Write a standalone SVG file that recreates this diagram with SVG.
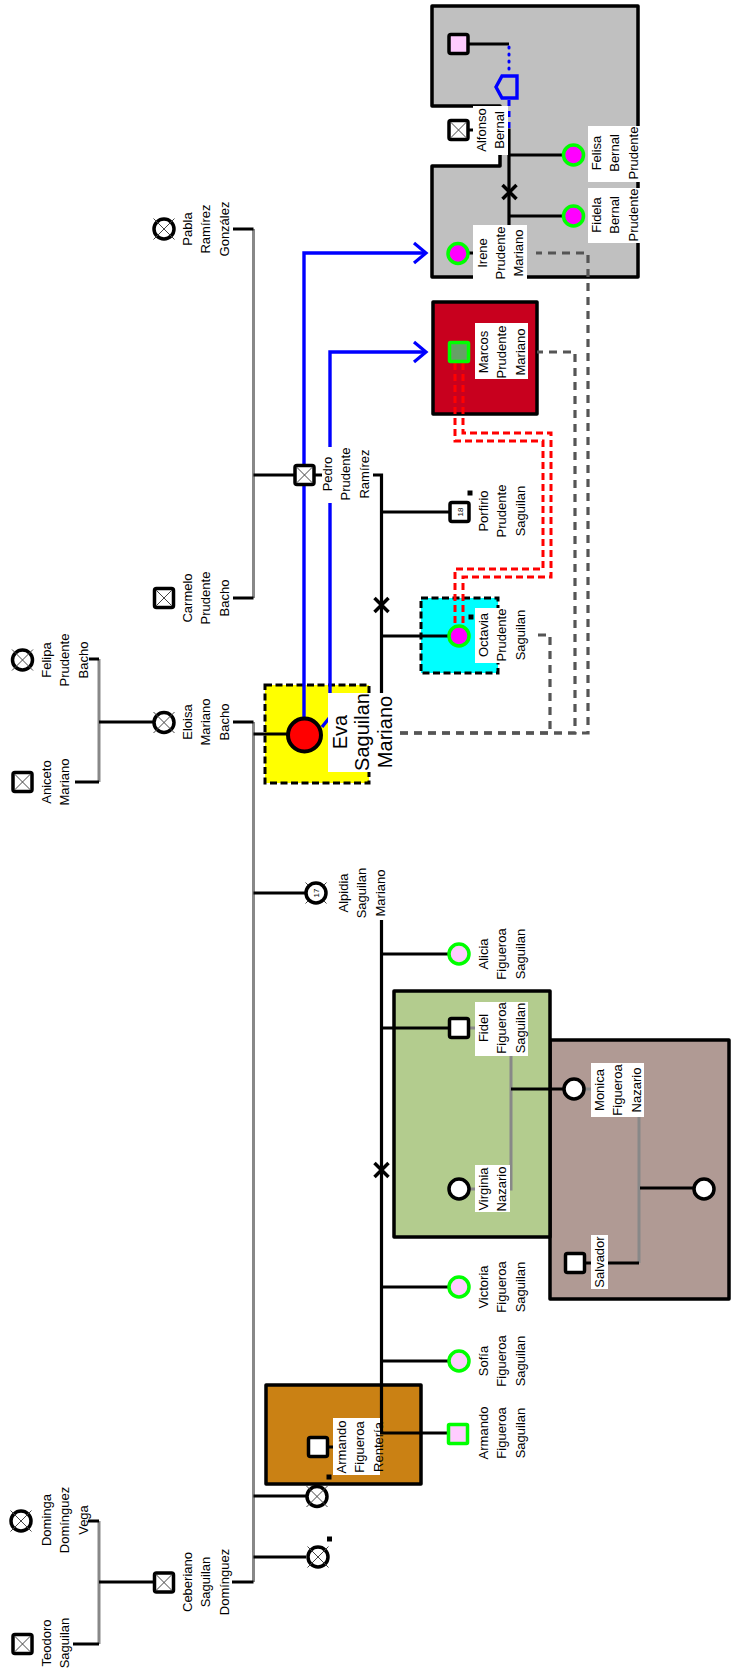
<svg xmlns="http://www.w3.org/2000/svg" width="736" height="1680" viewBox="0 0 736 1680">
<style>
.ln{fill:none;stroke:#000;stroke-width:3.2}
.gl{fill:none;stroke:#888;stroke-width:3}
.bl{fill:none;stroke:#0000ff;stroke-width:3.4}
.bd{fill:none;stroke:#0000ff;stroke-width:3;stroke-dasharray:1 6;stroke-linecap:round}
.bdd{fill:none;stroke:#0000ff;stroke-width:3;stroke-dasharray:6 5}
.dl{fill:none;stroke:#555;stroke-width:3.2;stroke-dasharray:8 6}
.rd{fill:none;stroke:#ff0000;stroke-width:3;stroke-dasharray:7 4}
.bx{stroke:#000;stroke-width:3.5;stroke-linejoin:round}
.db{stroke:#000;stroke-width:3;stroke-dasharray:7 3.5}
.nd{stroke:#000;stroke-width:3.5}
.gn{stroke:#00ff00;stroke-width:3.5}
.xx{stroke:#444;stroke-width:1;fill:none}
.xm{stroke:#000;stroke-width:3.5;fill:none}
.lbg{fill:#fff}
.mk{fill:#000}
.t{font-family:"Liberation Sans",Arial,sans-serif;font-size:13px;fill:#000;text-anchor:middle}
.big{font-size:20px}
.sm{font-size:8px}
</style>
<defs>
<g id="sqx"><rect x="-9.5" y="-9.5" width="19" height="19" rx="2" fill="#fff" class="nd"/><path class="xx" d="M-8,-8L8,8M-8,8L8,-8"/></g>
<g id="cx"><circle r="10" fill="#fff" class="nd"/><path class="xx" d="M-10.5,-10.5L10.5,10.5M-10.5,10.5L10.5,-10.5"/></g>
<path id="xmark" class="xm" d="M-7,-7L7,7M-7,7L7,-7"/>
<marker id="arr" markerUnits="userSpaceOnUse" markerWidth="20" markerHeight="24" refX="14" refY="12" orient="auto"><path d="M2,2L14,12L2,22" fill="none" stroke="#0000ff" stroke-width="3.2"/></marker>
</defs>
<rect width="736" height="1680" fill="#fff"/>

<g id="boxes">
<path class="bx" fill="#c0c0c0" d="M432,6H638V277H432V166H500V106H432Z"/>
<rect class="bx" fill="#c8001e" x="433" y="302" width="104" height="112"/>
<rect class="db" fill="#ffff00" x="265" y="685" width="104" height="98"/>
<rect class="db" fill="#00ffff" x="421" y="598" width="77" height="75"/>
<rect class="bx" fill="#b09a94" x="550" y="1040" width="179" height="259"/>
<rect class="bx" fill="#b3cc8e" x="394" y="991" width="156" height="246"/>
<rect class="bx" fill="#ca8114" x="266" y="1385" width="155" height="99"/>
</g>

<g id="connectors">
<path class="gl" d="M99,1521V1644M99,659V782M253.5,229V598M253.5,722V1582"/>
<path class="ln" d="M88,1521H99M73,1644H99M99,1582H153"/>
<path class="ln" d="M89,659H99M75,782H99M99,722H153"/>
<path class="ln" d="M233,229H253.5M233,598H253.5M253.5,475H294"/>
<path class="ln" d="M233,722H253.5M232,1582H253.5M253.5,734H288M253.5,893H305M253.5,1496H306M253.5,1557H306"/>
<path class="ln" d="M304,475H381.5V693M381.5,512H449M381.5,636H448"/>
<use href="#xmark" x="381.5" y="605"/>
<path class="ln" d="M381.5,920V1433H448M381.5,954H448M381.5,1028H449M381.5,1287H448M381.5,1361H448M318,1447H334"/>
<use href="#xmark" x="381.5" y="1170"/>
<path class="gl" d="M459,1028H511V1189H459"/>
<path class="ln" d="M511,1089H563"/>
<path class="gl" d="M574,1089H639V1263"/>
<path class="ln" d="M575,1263H639M640,1188H693"/>
<path class="ln" d="M458,44H509M458,130H509V253H458M509,155H563M509,216H563"/>
<use href="#xmark" x="509.5" y="192"/>
<path class="bd" d="M509,47V74"/>
<path class="bl" stroke-width="3.5" d="M502,76H517V98H502L496,87Z"/>
<path class="bdd" d="M509,100V129"/>
<path class="bl" d="M304,717V253H426" marker-end="url(#arr)"/>
<path class="bl" d="M322,727L330,717V352H426" marker-end="url(#arr)"/>
<path class="dl" d="M400,733H588V253H536"/>
<path class="dl" d="M400,733H575V352H537"/>
<path class="dl" d="M400,733H550V635H536"/>
<path class="rd" d="M455,363V441H543V569H455V624"/>
<path class="rd" d="M463,363V433H551V577H463V624"/>
</g>

<g id="n-teodoro"><use href="#sqx" x="22.5" y="1644"/><text class="t" transform="translate(51,1643) rotate(-90)"><tspan x="0">Teodoro</tspan><tspan x="0" dy="18.3">Saguilan</tspan></text></g>
<g id="n-dominga"><use href="#cx" x="21" y="1521"/><text class="t" transform="translate(51,1520) rotate(-90)"><tspan x="0">Dominga</tspan><tspan x="0" dy="18.3">Domínguez</tspan><tspan x="0" dy="18.3">Vega</tspan></text></g>
<g id="n-aniceto"><use href="#sqx" x="22.5" y="782"/><text class="t" transform="translate(51,782) rotate(-90)"><tspan x="0">Aniceto</tspan><tspan x="0" dy="18.3">Mariano</tspan></text></g>
<g id="n-felipa"><use href="#cx" x="22.5" y="660"/><text class="t" transform="translate(51,660) rotate(-90)"><tspan x="0">Felipa</tspan><tspan x="0" dy="18.3">Prudente</tspan><tspan x="0" dy="18.3">Bacho</tspan></text></g>

<g id="n-pabla"><use href="#cx" x="164" y="229"/><text class="t" transform="translate(192,229) rotate(-90)"><tspan x="0">Pabla</tspan><tspan x="0" dy="18.3">Ramírez</tspan><tspan x="0" dy="18.3">González</tspan></text></g>
<g id="n-carmelo"><use href="#sqx" x="164" y="598"/><text class="t" transform="translate(192,598) rotate(-90)"><tspan x="0">Carmelo</tspan><tspan x="0" dy="18.3">Prudente</tspan><tspan x="0" dy="18.3">Bacho</tspan></text></g>
<g id="n-eloisa"><use href="#cx" x="164" y="722.5"/><text class="t" transform="translate(192,722) rotate(-90)"><tspan x="0">Eloisa</tspan><tspan x="0" dy="18.3">Mariano</tspan><tspan x="0" dy="18.3">Bacho</tspan></text></g>
<g id="n-ceberiano"><use href="#sqx" x="164" y="1582.5"/><text class="t" transform="translate(192,1582) rotate(-90)"><tspan x="0">Ceberiano</tspan><tspan x="0" dy="18.3">Saguilan</tspan><tspan x="0" dy="18.3">Domínguez</tspan></text></g>

<g id="n-pedro"><rect class="lbg" x="322" y="447" width="51" height="56"/><use href="#sqx" x="304.5" y="475"/><text class="t" transform="translate(332,474) rotate(-90)"><tspan x="0">Pedro</tspan><tspan x="0" dy="18.3">Prudente</tspan><tspan x="0" dy="18.3">Ramírez</tspan></text></g>
<g id="n-eva"><rect class="lbg" x="328" y="693" width="44" height="79"/><circle cx="304.5" cy="735" r="16.5" fill="#ff0000" stroke="#000" stroke-width="4"/><text class="t big" transform="translate(346.5,732) rotate(-90)"><tspan x="0">Eva</tspan><tspan x="0" dy="22.6">Saguilan</tspan><tspan x="0" dy="22.6">Mariano</tspan></text></g>
<g id="n-alpidia"><rect class="lbg" x="337" y="866" width="51" height="54"/><path class="xx" d="M305.5,882.5L326.5,903.5M305.5,903.5L326.5,882.5"/><circle cx="316" cy="893" r="10" fill="#fff" class="nd"/><text class="t sm" transform="translate(319,893) rotate(-90)">17</text><text class="t" transform="translate(348,893) rotate(-90)"><tspan x="0">Alpidia</tspan><tspan x="0" dy="18.3">Saguilan</tspan><tspan x="0" dy="18.3">Mariano</tspan></text></g>
<g id="n-armando-fr"><rect class="lbg" x="333" y="1418" width="47" height="57"/><rect x="308.5" y="1437.5" width="19" height="19" rx="2" fill="#fff" class="nd"/><rect class="mk" x="326.5" y="1474.5" width="5" height="5"/><text class="t" transform="translate(346,1447) rotate(-90)"><tspan x="0">Armando</tspan><tspan x="0" dy="18.3">Figueroa</tspan><tspan x="0" dy="18.3">Rentería</tspan></text></g>
<g id="n-hija1"><use href="#cx" x="317" y="1496.5"/></g>
<g id="n-hija2"><use href="#cx" x="318" y="1557"/><rect class="mk" x="327" y="1536.5" width="5" height="5"/></g>

<g id="n-desconocido"><rect x="449" y="34.5" width="19" height="19" rx="2" fill="#ffccff" class="nd"/></g>
<g id="n-alfonso"><rect class="lbg" x="473" y="106" width="35" height="49"/><use href="#sqx" x="458.5" y="130"/><text class="t" transform="translate(486,130) rotate(-90)"><tspan x="0">Alfonso</tspan><tspan x="0" dy="18.3">Bernal</tspan></text></g>
<g id="n-irene"><rect class="lbg" x="473" y="225" width="54" height="55"/><circle cx="458" cy="253.5" r="10" fill="#ff00ff" class="gn"/><text class="t" transform="translate(486.5,253) rotate(-90)"><tspan x="0">Irene</tspan><tspan x="0" dy="18.3">Prudente</tspan><tspan x="0" dy="18.3">Mariano</tspan></text></g>
<g id="n-felisa"><rect class="lbg" x="588" y="126" width="52" height="56"/><circle cx="573.5" cy="155" r="10" fill="#ff00ff" class="gn"/><text class="t" transform="translate(601,153) rotate(-90)"><tspan x="0">Felisa</tspan><tspan x="0" dy="18.3">Bernal</tspan><tspan x="0" dy="18.3">Prudente</tspan></text></g>
<g id="n-fidela"><rect class="lbg" x="588" y="188" width="52" height="55"/><circle cx="573.5" cy="216" r="10" fill="#ff00ff" class="gn"/><text class="t" transform="translate(601,215) rotate(-90)"><tspan x="0">Fidela</tspan><tspan x="0" dy="18.3">Bernal</tspan><tspan x="0" dy="18.3">Prudente</tspan></text></g>
<g id="n-marcos"><rect class="lbg" x="475" y="323" width="53" height="56"/><rect x="449.5" y="342.5" width="19" height="19" rx="1" fill="#66a066" class="gn"/><text class="t" transform="translate(488,352) rotate(-90)"><tspan x="0">Marcos</tspan><tspan x="0" dy="18.3">Prudente</tspan><tspan x="0" dy="18.3">Mariano</tspan></text></g>
<g id="n-porfirio"><rect class="lbg" x="475" y="484" width="53" height="56"/><rect x="450" y="502.5" width="19" height="19" rx="2" fill="#fff" class="nd"/><text class="t sm" transform="translate(462.5,512) rotate(-90)">18</text><rect class="mk" x="467.5" y="490.5" width="5" height="5"/><text class="t" transform="translate(488,511) rotate(-90)"><tspan x="0">Porfirio</tspan><tspan x="0" dy="18.3">Prudente</tspan><tspan x="0" dy="18.3">Saguilan</tspan></text></g>
<g id="n-octavia"><rect class="lbg" x="475" y="608" width="53" height="55"/><circle cx="459" cy="636" r="10" fill="#ff00ff" class="gn"/><rect class="mk" x="468.5" y="614.5" width="5" height="5"/><text class="t" transform="translate(488,635) rotate(-90)"><tspan x="0">Octavia</tspan><tspan x="0" dy="18.3">Prudente</tspan><tspan x="0" dy="18.3">Saguilan</tspan></text></g>
<g id="n-alicia"><circle cx="459" cy="954" r="10" fill="#ffccff" class="gn"/><text class="t" transform="translate(488,954) rotate(-90)"><tspan x="0">Alicia</tspan><tspan x="0" dy="18.3">Figueroa</tspan><tspan x="0" dy="18.3">Saguilan</tspan></text></g>
<g id="n-fidel"><rect class="lbg" x="475" y="1002" width="53" height="54"/><rect x="449.5" y="1018.5" width="19" height="19" rx="2" fill="#fff" class="nd"/><text class="t" transform="translate(488,1028) rotate(-90)"><tspan x="0">Fidel</tspan><tspan x="0" dy="18.3">Figueroa</tspan><tspan x="0" dy="18.3">Saguilan</tspan></text></g>
<g id="n-virginia"><rect class="lbg" x="475" y="1165" width="35" height="47"/><circle cx="459" cy="1189" r="10" fill="#fff" class="nd"/><text class="t" transform="translate(488,1189) rotate(-90)"><tspan x="0">Virginia</tspan><tspan x="0" dy="18.3">Nazario</tspan></text></g>
<g id="n-victoria"><circle cx="459" cy="1287" r="10" fill="#ffccff" class="gn"/><text class="t" transform="translate(488,1287) rotate(-90)"><tspan x="0">Victoria</tspan><tspan x="0" dy="18.3">Figueroa</tspan><tspan x="0" dy="18.3">Saguilan</tspan></text></g>
<g id="n-sofia"><circle cx="459" cy="1361" r="10" fill="#ffccff" class="gn"/><text class="t" transform="translate(488,1361) rotate(-90)"><tspan x="0">Sofía</tspan><tspan x="0" dy="18.3">Figueroa</tspan><tspan x="0" dy="18.3">Saguilan</tspan></text></g>
<g id="n-armando-fs"><rect x="448.5" y="1424.5" width="19" height="19" rx="1" fill="#ffccff" class="gn"/><text class="t" transform="translate(488,1433) rotate(-90)"><tspan x="0">Armando</tspan><tspan x="0" dy="18.3">Figueroa</tspan><tspan x="0" dy="18.3">Saguilan</tspan></text></g>
<g id="n-monica"><rect class="lbg" x="591" y="1063" width="53" height="54"/><circle cx="574" cy="1089" r="10" fill="#fff" class="nd"/><text class="t" transform="translate(604,1090) rotate(-90)"><tspan x="0">Monica</tspan><tspan x="0" dy="18.3">Figueroa</tspan><tspan x="0" dy="18.3">Nazario</tspan></text></g>
<g id="n-salvador"><rect class="lbg" x="591" y="1235" width="17" height="54"/><rect x="565.5" y="1253.5" width="19" height="19" rx="2" fill="#fff" class="nd"/><text class="t" transform="translate(603.5,1262) rotate(-90)">Salvador</text></g>
<g id="n-hijo-monica"><circle cx="704" cy="1189" r="10" fill="#fff" class="nd"/></g>
</svg>
